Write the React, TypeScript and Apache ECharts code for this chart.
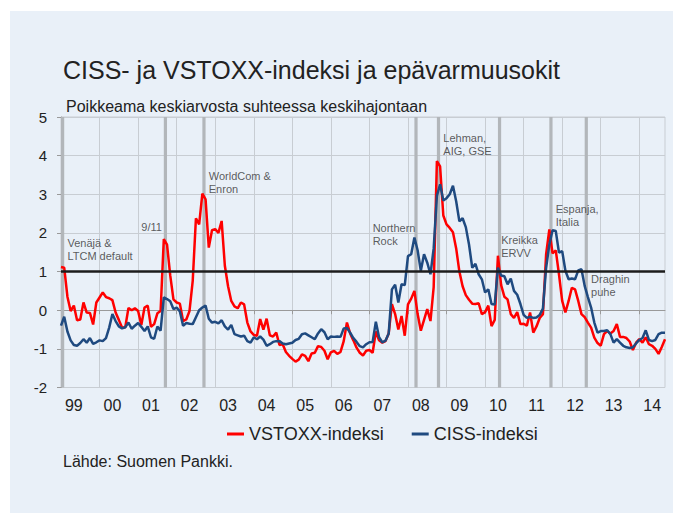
import React, { useEffect, useRef } from "react";
import * as echarts from "echarts";

// Monthly categories, Jan 1999 .. Sep 2014
const months: string[] = [];
for (let y = 1999; y <= 2014; y++) {
  for (let m = 1; m <= 12; m++) {
    if (months.length < 189) months.push(`${y}-${m < 10 ? "0" + m : m}`);
  }
}

const vstoxx: number[] = [
  1.12, 1.1, 0.35, -0.02, 0.12, -0.26, -0.24, 0.2, -0.06, -0.07,
  -0.37, 0.2, 0.33, 0.46, 0.34, 0.31, 0.26, -0.06, -0.25, -0.45,
  -0.44, 0.06, 0.0, 0.05, -0.02, -0.38, 0.07, 0.12, -0.43, -0.36,
  -0.08, -0.02, 1.84, 1.7, 0.9, 0.28, 0.2, 0.17, -0.28, -0.24,
  -0.02, 0.76, 2.38, 2.22, 3.02, 2.87, 1.62, 2.07, 2.1, 2.0,
  2.31, 1.15, 0.62, 0.24, 0.1, 0.05, 0.2, 0.15, -0.32, -0.55,
  -0.64, -0.66, -0.23, -0.5, -0.22, -0.65, -0.68, -0.58, -0.9, -0.88,
  -1.08, -1.18, -1.26, -1.33, -1.28, -1.14, -1.18, -1.32, -1.12, -1.1,
  -0.93, -0.95, -1.05, -1.27, -1.09, -1.05, -1.13, -1.08, -0.8, -0.32,
  -0.6, -0.78, -0.97, -1.1, -1.17, -1.05, -1.03, -1.1, -0.55, -0.78,
  -0.84, -0.8, -0.6, 0.16, -0.1, -0.5, -0.15, -0.66, 0.15, 0.3,
  0.5, -0.1, -0.53, -0.25, 0.03, -0.28, 0.6, 3.86, 3.72, 2.45,
  2.22, 2.13, 2.02, 1.6, 1.0, 0.62, 0.39, 0.27, 0.17, 0.16,
  0.18, -0.1, -0.05, 0.12, -0.41, -0.25, 1.41, 0.65, 0.35, 0.28,
  -0.1, -0.2, -0.05, -0.36, -0.35, -0.4, -0.06, -0.58, -0.42, -0.2,
  -0.1, 1.45, 2.09, 1.47, 1.55, 0.93, 0.24, -0.06, 0.24, 0.58,
  0.54, 0.24, -0.1, -0.18, -0.32, -0.45, -0.71, -0.85, -0.92, -0.62,
  -0.54, -0.6, -0.54, -0.36, -0.69, -0.69, -0.72, -0.81, -1.03, -0.84,
  -0.75, -0.84, -0.7, -0.88, -0.92, -1.0, -1.13, -0.95, -0.75,
];

const ciss: number[] = [
  -0.4, -0.17, -0.55, -0.78, -0.9, -0.92, -0.85, -0.75, -0.84, -0.72,
  -0.87, -0.83, -0.78, -0.8, -0.72, -0.45, -0.1, -0.28, -0.42, -0.47,
  -0.44, -0.32, -0.48, -0.4, -0.33, -0.43, -0.54, -0.42, -0.7, -0.74,
  -0.42, -0.53, 0.33, 0.29, 0.23, 0.03, 0.07, -0.03, -0.4, -0.33,
  -0.35, -0.36, -0.18, 0.0, 0.07, 0.12, -0.22, -0.32, -0.3, -0.34,
  -0.26, -0.42, -0.5, -0.38, -0.62, -0.65, -0.68, -0.66, -0.8, -0.84,
  -0.7, -0.75, -0.68, -0.76, -0.92, -0.88, -0.82, -0.8, -0.8, -0.86,
  -0.88, -0.86, -0.84, -0.77, -0.74, -0.62, -0.6, -0.65, -0.7, -0.75,
  -0.6, -0.49, -0.57, -0.75, -0.68, -0.69, -0.68, -0.69, -0.47, -0.46,
  -0.58, -0.72, -0.82, -0.93, -0.96, -0.88, -0.83, -0.82, -0.3, -0.7,
  -0.83, -0.79, -0.6, 0.54, 0.66, 0.2, 0.67, 0.65, 1.4, 1.45,
  1.88, 1.55, 1.02, 1.45, 1.23, 0.93, 1.6, 2.96, 3.26, 2.84,
  2.9, 3.0, 3.22, 2.82, 2.3, 2.38, 2.15, 1.7, 1.1, 1.2,
  0.93, 0.8, 0.46, 0.54, 0.16, 0.15, 1.1, 0.9, 0.88, 0.67,
  0.82, 0.5, 0.4, 0.16, -0.12, -0.2, -0.17, -0.2, -0.19, -0.12,
  0.04, 1.1, 1.7, 2.07, 2.05, 1.49, 1.53, 1.02, 0.8, 0.82,
  0.8, 1.03, 1.06, 0.63, 0.34, 0.07, -0.32, -0.58, -0.54, -0.54,
  -0.52, -0.62, -0.84, -0.75, -0.84, -0.92, -0.96, -0.98, -0.96, -0.86,
  -0.77, -0.72, -0.52, -0.77, -0.8, -0.77, -0.62, -0.58, -0.58,
];

// Uncertainty shocks (month index from Jan 1999)
const eventMonths: number[] = [0, 32, 44, 110, 117, 136, 152, 163];

// Annotations: text, month index of left edge, level of vertical centre
const annotationTexts: string[] = [
  "Venäjä &\nLTCM default",
  "9/11",
  "WorldCom &\nEnron",
  "Northern\nRock",
  "Lehman,\nAIG, GSE",
  "Kreikka\nERVV",
  "Espanja,\nItalia",
  "Draghin\npuhe",
];
const annotationMonths: number[] = [2, 25, 46, 97, 119, 137, 154, 165];
const annotationLevels: number[] = [1.56, 2.15, 3.31, 1.97, 4.3, 1.65, 2.44, 0.63];

const yTicks = { min: -2, max: 5, interval: 1 };
const thresholdLevel = 1;

const FONT = "'Liberation Sans', Arial, Helvetica, sans-serif";
const BG = "#e9f0f8";
const GRID = "#c8cdd3";

export default function App() {
  const ref = useRef<HTMLDivElement>(null);

  useEffect(() => {
    if (!ref.current) return;
    const chart = echarts.init(ref.current, undefined, { renderer: "svg" });
    chart.setOption({
      animation: false,
      backgroundColor: BG,
      textStyle: { fontFamily: FONT },
      grid: {
        left: 51,
        right: 16,
        top: 106,
        bottom: 128.5,
        show: true,
        borderColor: GRID,
        borderWidth: 1,
        backgroundColor: "transparent",
      },
      graphic: [
        {
          type: "text",
          x: 53,
          y: 59,
          style: {
            text: "CISS- ja VSTOXX-indeksi ja epävarmuusokit",
            fontSize: 25,
            fontFamily: FONT,
            fill: "#222",
            verticalAlign: "middle",
          },
        },
        {
          type: "text",
          x: 56,
          y: 95,
          style: {
            text: "Poikkeama keskiarvosta suhteessa keskihajontaan",
            fontSize: 16,
            fontFamily: FONT,
            fill: "#222",
            verticalAlign: "middle",
          },
        },
        {
          type: "text",
          x: 53,
          y: 450,
          style: {
            text: "Lähde: Suomen Pankki.",
            fontSize: 16,
            fontFamily: FONT,
            fill: "#222",
            verticalAlign: "middle",
          },
        },
      ],
      legend: {
        data: ["VSTOXX-indeksi", "CISS-indeksi"],
        left: 212,
        top: 409,
        icon: "rect",
        itemWidth: 17,
        itemHeight: 3,
        itemGap: 28,
        textStyle: { fontSize: 18, color: "#222", fontFamily: FONT },
      },
      xAxis: {
        type: "category",
        data: months,
        boundaryGap: false,
        axisLine: { show: true, lineStyle: { color: "#9a9a9a", width: 1 } },
        axisTick: {
          show: true,
          interval: (i: number) => i % 12 === 0,
          length: 4,
          lineStyle: { color: "#9a9a9a" },
        },
        axisLabel: {
          interval: (i: number) => i % 12 === 4,
          formatter: (v: string) => v.slice(2, 4),
          color: "#222",
          fontSize: 16,
          margin: 10,
        },
        splitLine: {
          show: true,
          interval: (i: number) => i % 12 === 0,
          lineStyle: { color: GRID, width: 1 },
        },
      },
      yAxis: {
        type: "value",
        min: yTicks.min,
        max: yTicks.max,
        interval: yTicks.interval,
        axisLine: { show: true, lineStyle: { color: "#9a9a9a", width: 1 } },
        axisTick: { show: true, length: 4, lineStyle: { color: "#9a9a9a" } },
        axisLabel: { color: "#222", fontSize: 15, margin: 14 },
        splitLine: { show: true, lineStyle: { color: GRID, width: 1 } },
      },
      series: [
        {
          name: "shocks",
          type: "line",
          data: [],
          z: 1,
          silent: true,
          markArea: {
            silent: true,
            itemStyle: { color: "#b2b6ba" },
            data: eventMonths.map((i) => [
              { xAxis: months[i] },
              { xAxis: months[i + 1] },
            ]),
          },
        },
        {
          name: "threshold",
          type: "line",
          data: [],
          z: 2,
          silent: true,
          markLine: {
            silent: true,
            symbol: "none",
            label: { show: false },
            lineStyle: { color: "#1c1c1c", width: 2.5, type: "solid" },
            data: [{ yAxis: thresholdLevel }],
          },
        },
        {
          name: "VSTOXX-indeksi",
          type: "line",
          data: vstoxx,
          z: 3,
          showSymbol: false,
          symbol: "none",
          lineStyle: { color: "#ff0000", width: 2.5 },
          itemStyle: { color: "#ff0000" },
        },
        {
          name: "CISS-indeksi",
          type: "line",
          data: ciss,
          z: 4,
          showSymbol: false,
          symbol: "none",
          lineStyle: { color: "#1f4a80", width: 2.5 },
          itemStyle: { color: "#1f4a80" },
        },
        {
          name: "annotations",
          type: "scatter",
          z: 5,
          silent: true,
          symbolSize: 0,
          itemStyle: { color: "transparent" },
          label: {
            show: true,
            position: "right",
            distance: 0,
            align: "left",
            color: "#333",
            fontSize: 11,
            lineHeight: 13,
            fontFamily: FONT,
            formatter: (p: any) => annotationTexts[p.dataIndex],
          },
          data: annotationTexts.map((_, k) => [
            annotationMonths[k],
            annotationLevels[k],
          ]),
        },
      ],
    });
    return () => chart.dispose();
  }, []);

  return (
    <div
      ref={ref}
      style={{ position: "relative", left: 2, top: 3, width: 671, height: 505 }}
    />
  );
}
